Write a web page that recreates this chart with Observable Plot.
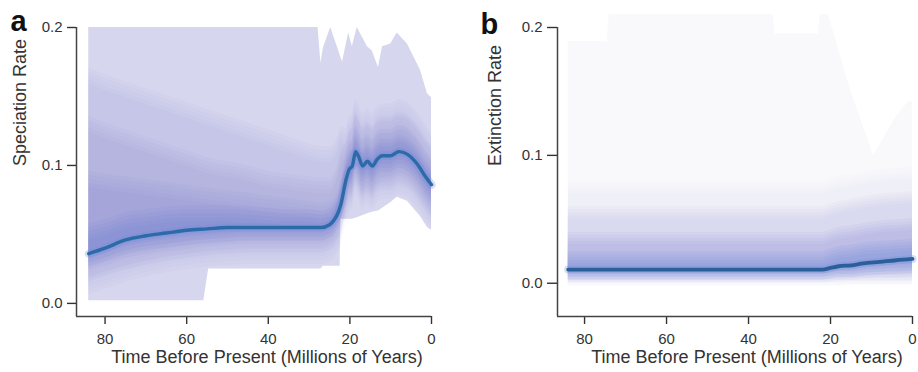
<!DOCTYPE html>
<html>
<head>
<meta charset="utf-8">
<script src="https://cdn.jsdelivr.net/npm/d3@7"></script>
<script src="https://cdn.jsdelivr.net/npm/@observablehq/plot@0.6"></script>
<style>
  html, body { margin: 0; padding: 0; background: #fff; }
  #wrap { display: flex; flex-direction: row; width: 918px; height: 372px; }
</style>
</head>
<body>
<div id="wrap"></div>
<script>
// ---------- shared ticks ----------
const xTicks = [80, 60, 40, 20, 0];
const yTicks = [0, 0.1, 0.2];

// ---------- Panel a: speciation rate ----------
const tA = [84,80,75,70,65,60,55,50,45,40,35,30,27,25,24,23,22.2,21,20.2,19.4,18.6,17.8,16.9,15.7,14.5,13.3,12.1,10,8,5.9,3.5,1.5,0];
const medA = [0.036,0.040,0.046,0.049,0.051,0.053,0.054,0.055,0.055,0.055,0.055,0.055,0.055,0.057,0.060,0.065,0.072,0.089,0.097,0.0996,0.110,0.106,0.0996,0.103,0.0996,0.1045,0.107,0.107,0.110,0.108,0.101,0.092,0.086];
const band0HiA = [0.165,0.16,0.155,0.15,0.145,0.14,0.135,0.13,0.125,0.12,0.115,0.11,0.108,0.108,0.11,0.115,0.122,0.121,0.129,0.132,0.142,0.138,0.132,0.135,0.132,0.137,0.139,0.139,0.142,0.14,0.133,0.124,0.118];
const band0LoA = [0.012,0.016,0.021,0.025,0.028,0.03,0.032,0.033,0.034,0.034,0.034,0.034,0.034,0.036,0.038,0.042,0.048,0.063,0.071,0.074,0.084,0.08,0.074,0.077,0.074,0.079,0.081,0.081,0.084,0.082,0.075,0.066,0.06];
const band1HiA = [0.13,0.125,0.12,0.115,0.11,0.105,0.10,0.097,0.094,0.09,0.088,0.086,0.085,0.085,0.088,0.095,0.105,0.111,0.119,0.122,0.132,0.128,0.122,0.125,0.122,0.127,0.129,0.129,0.132,0.13,0.123,0.114,0.108];
const band1LoA = [0.022,0.026,0.03,0.033,0.036,0.038,0.04,0.041,0.042,0.042,0.042,0.042,0.042,0.044,0.046,0.05,0.055,0.07,0.078,0.081,0.091,0.087,0.081,0.084,0.081,0.086,0.088,0.088,0.091,0.089,0.082,0.073,0.067];
const band2HiA = [0.09,0.088,0.086,0.084,0.082,0.08,0.078,0.076,0.074,0.072,0.07,0.068,0.067,0.068,0.07,0.076,0.085,0.102,0.110,0.113,0.123,0.119,0.113,0.116,0.113,0.118,0.12,0.12,0.123,0.121,0.114,0.105,0.099];
const band2LoA = [0.03,0.033,0.038,0.041,0.043,0.045,0.047,0.048,0.049,0.049,0.049,0.049,0.049,0.051,0.053,0.058,0.064,0.078,0.085,0.087,0.097,0.093,0.087,0.09,0.087,0.092,0.094,0.095,0.098,0.096,0.089,0.08,0.074];
const band3HiA = [0.052,0.055,0.060,0.062,0.064,0.065,0.065,0.065,0.064,0.063,0.062,0.062,0.061,0.063,0.066,0.071,0.078,0.095,0.103,0.106,0.116,0.112,0.106,0.109,0.106,0.111,0.113,0.113,0.116,0.114,0.107,0.098,0.092];
const band3LoA = [0.032,0.036,0.041,0.044,0.046,0.048,0.049,0.050,0.051,0.051,0.051,0.051,0.051,0.053,0.055,0.060,0.066,0.083,0.091,0.094,0.104,0.100,0.094,0.097,0.094,0.099,0.101,0.101,0.104,0.102,0.095,0.086,0.080];
const outerTA  = [84,55.8,54.6,27.8,27.1,26.5,24.7,22.4,22.2,21.8,20.3,19.4,18.2,15.7,14.5,13,12,10,8.4,5.9,2.7,1,0];
const outerHiA = [0.2,0.2,0.2,0.2,0.174,0.185,0.2,0.18,0.178,0.175,0.196,0.186,0.2,0.186,0.183,0.171,0.186,0.188,0.196,0.188,0.169,0.152,0.149];
const outerLoA = [0.002,0.002,0.025,0.025,0.025,0.027,0.027,0.027,0.061,0.061,0.061,0.061,0.062,0.065,0.066,0.067,0.069,0.073,0.077,0.074,0.063,0.055,0.053];

// ---------- Panel b: extinction rate ----------
const tB = [84,22,20,18,15,12,8,4,0];
const medB = [0.0107,0.0107,0.012,0.0133,0.014,0.0155,0.0167,0.018,0.019];
const band0HiB = [0.075,0.075,0.077,0.079,0.08,0.082,0.084,0.085,0.086];
const band0LoB = [0.002,0.002,0.002,0.002,0.002,0.002,0.002,0.002,0.002];
const band1HiB = [0.055,0.055,0.057,0.059,0.061,0.063,0.065,0.066,0.067];
const band1LoB = [0.003,0.003,0.003,0.003,0.004,0.004,0.004,0.004,0.004];
const band2HiB = [0.035,0.035,0.037,0.039,0.04,0.042,0.044,0.045,0.046];
const band2LoB = [0.005,0.005,0.006,0.007,0.007,0.008,0.009,0.009,0.010];
const band3HiB = [0.02,0.02,0.022,0.024,0.025,0.027,0.028,0.029,0.03];
const band3LoB = [0.007,0.007,0.008,0.009,0.009,0.010,0.011,0.012,0.012];
const outerTB  = [84,74.5,74,34,33.5,23,22.5,20.5,15,9.5,4,1,0];
const outerHiB = [0.189,0.189,0.21,0.21,0.195,0.195,0.21,0.21,0.15,0.1,0.13,0.142,0.142];
const outerLoB = [0.002,0.002,0.002,0.002,0.002,0.002,0.002,0.002,0.002,0.002,0.002,0.002,0.002];

const FONT = "'Liberation Sans', Arial, Helvetica, sans-serif";

function panel(cfg) {
  // each density band is drawn several times with small vertical offsets to soften its edges
  const bandMarks = cfg.bands.flatMap(b => cfg.smear.map(dy => Plot.areaY(cfg.t, {
    x: cfg.t, y1: b.lo, y2: b.hi, fill: b.fill, fillOpacity: b.op / cfg.smear.length,
    curve: "monotone-x", dy
  })));
  const svg = Plot.plot({
    width: 459, height: 372,
    marginLeft: cfg.ml, marginRight: cfg.mr, marginTop: 27, marginBottom: 56,
    style: {fontFamily: FONT, fontSize: "15px", color: "#333", background: "white", overflow: "visible"},
    x: {domain: cfg.xDomain, ticks: xTicks, tickSize: 8, tickPadding: 9, label: null},
    y: {domain: cfg.yDomain, ticks: yTicks, tickSize: cfg.ytick, tickPadding: 5, tickFormat: ".1f", label: null},
    marks: [
      Plot.areaY(cfg.outerT, {x: cfg.outerT, y1: cfg.outerLo, y2: cfg.outerHi, fill: cfg.outerFill, curve: "linear"}),
      ...bandMarks,
      Plot.line(cfg.t, {x: cfg.t, y: cfg.med, stroke: cfg.glow, strokeWidth: 8, strokeOpacity: 0.3, curve: "monotone-x"}),
      Plot.line(cfg.t, {x: cfg.t, y: cfg.med, stroke: cfg.lineColor, strokeWidth: cfg.lineWidth, curve: "monotone-x"}),
      Plot.ruleX([cfg.xDomain[0]], {stroke: "#444", strokeWidth: 1.5}),
      Plot.ruleY([cfg.yDomain[0]], {stroke: "#444", strokeWidth: 1.5}),
      Plot.text([cfg.letter], {text: d => d, frameAnchor: "top-left", dx: cfg.letterDx, dy: cfg.letterDy,
        textAnchor: "start", lineAnchor: "bottom", fontSize: 29, fontWeight: "bold", fill: "#111"}),
      Plot.text([cfg.ylabel], {text: d => d, frameAnchor: "left", rotate: -90, dx: cfg.ylabDx, dy: -6,
        fontSize: 18, fill: "#333"}),
      Plot.text([cfg.xlabel], {text: d => d, frameAnchor: "bottom", dx: cfg.xlabDx, dy: 46,
        lineAnchor: "bottom", fontSize: 18, fill: "#333"})
    ]
  });
  svg.querySelectorAll('[aria-label^="x-axis"] line, [aria-label^="y-axis"] line, [aria-label="x-axis tick"] path, [aria-label="y-axis tick"] path')
     .forEach(el => el.setAttribute("stroke-width", "1.4"));
  return svg;
}

const wrap = document.getElementById("wrap");
wrap.appendChild(panel({
  t: tA, med: medA, smear: [-8, -4, 0, 4, 8],
  bands: [
    {lo: band0LoA, hi: band0HiA, fill: "#6a6ac4", op: 0.12},
    {lo: band1LoA, hi: band1HiA, fill: "#6464c4", op: 0.15},
    {lo: band2LoA, hi: band2HiA, fill: "#6060c0", op: 0.2},
    {lo: band3LoA, hi: band3HiA, fill: "#5070d0", op: 0.32}
  ],
  outerT: outerTA, outerLo: outerLoA, outerHi: outerHiA, outerFill: "#d6d6ee",
  glow: "#6f8fdc", lineColor: "#2c6aa8", lineWidth: 3.4,
  ml: 76, mr: 28, xDomain: [87, 0], yDomain: [-0.0095, 0.2], ytick: 9,
  letter: "a", letterDx: -66, letterDy: 3,
  ylabel: "Speciation Rate", ylabDx: -56,
  xlabel: "Time Before Present (Millions of Years)", xlabDx: 13
}));
wrap.appendChild(panel({
  t: tB, med: medB, smear: [-6, -3, 0, 3, 6],
  bands: [
    {lo: band0LoB, hi: band0HiB, fill: "#d4d4ef", op: 0.28},
    {lo: band1LoB, hi: band1HiB, fill: "#b8b8e6", op: 0.4},
    {lo: band2LoB, hi: band2HiB, fill: "#9090d8", op: 0.4},
    {lo: band3LoB, hi: band3HiB, fill: "#6a8ed8", op: 0.5}
  ],
  outerT: outerTB, outerLo: outerLoB, outerHi: outerHiB, outerFill: "#f9f9fc",
  glow: "#6f8fdc", lineColor: "#2a5f9a", lineWidth: 3.8,
  ml: 98, mr: 6, xDomain: [86.6, 0], yDomain: [-0.026, 0.2], ytick: 10,
  letter: "b", letterDx: -77, letterDy: 6,
  ylabel: "Extinction Rate", ylabDx: -62,
  xlabel: "Time Before Present (Millions of Years)", xlabDx: 12
}));
</script>
</body>
</html>
